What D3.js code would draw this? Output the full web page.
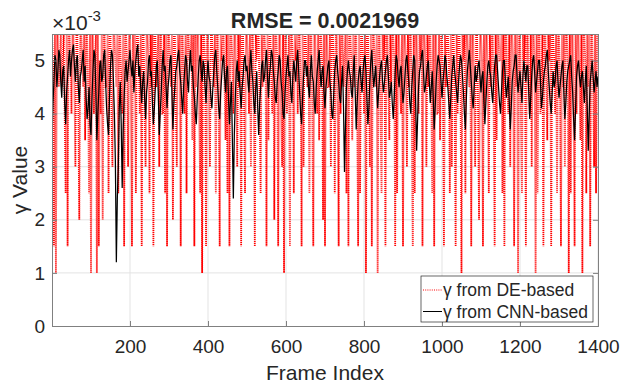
<!DOCTYPE html>
<html>
<head>
<meta charset="utf-8">
<script src="https://cdn.jsdelivr.net/npm/d3@7"></script>
<style>
  body { margin: 0; background: #fff; }
  text { font-family: "Liberation Sans", Arial, Helvetica, sans-serif; fill: #262626; }
</style>
</head>
<body>
<div id="chart"></div>
<script>
// gamma values (x 1e-3), one sample every 2.5 frames
const frameStep = 2.5;
const gammaDE = [
  5.5,5, 1.5,5.5, 1,5.5, 5.5,4.5, 5,5.5, 4.5,5, 5.5,4, 2.5,5.5, 1.5,5.5, 5.5,5, 4,5.5, 5.5,4.5, 3,5.5, 5.5,4, 2,5.5, 5.5,5, 4.5,5.5, 3.5,5.5, 5.5,4.5, 2.5,5.5,
  1,5.5, 5.5,4, 5,5.5, 1,5.5, 1.5,5, 4,5.5, 2,5.5, 5.5,4.5, 4.5,5.5, 2.5,5.5, 5.5,4, 3,5.5, 5.5,5, 4.5,5.5, 2.5,5.5, 5.5,4.5, 4,5.5, 1.5,5.5, 5.5,5, 3,5.5,
  5.5,4.5, 1.5,5.5, 4.5,5.5, 2.5,5.5, 5.5,5, 4,5.5, 1.5,5.5, 5.5,4, 3,5.5, 5.5,5, 2.5,5.5, 4.5,5.5, 1.5,5.5, 5.5,4.5, 5,5.5, 3,5.5, 5.5,4, 4,5.5, 2.5,5.5, 1.5,5.5,
  5.5,5, 4.5,5.5, 2,5.5, 5.5,4, 3,5.5, 5,5.5, 1.5,5.5, 5.5,4.5, 4,5.5, 2.5,5.5, 5.5,5, 5,5.5, 3.5,5.5, 1.5,5.5, 4.5,5.5, 5.5,4, 2.5,5.5, 1,5.5, 5.5,5, 1.5,5.5,
  5.5,4.5, 3,5.5, 5.5,5, 4.5,5.5, 2.5,5.5, 5.5,4, 1.5,5.5, 5,5.5, 5.5,4.5, 3.5,5.5, 2.5,5.5, 1.5,5.5, 5.5,5, 4,5.5, 5.5,4.5, 3,5.5, 4.5,5.5, 1.5,5.5, 5.5,4, 2.5,5.5,
  5.5,5, 4,5.5, 3,5.5, 5.5,4.5, 1.5,5.5, 5,5.5, 5.5,4, 2.5,5.5, 4.5,5.5, 5.5,5, 1.5,5.5, 3.5,5.5, 5.5,4.5, 4,5.5, 2,5.5, 5.5,5, 1.5,5.5, 5.5,4, 3,5.5, 1,5.5,
  5.5,4, 4.5,5.5, 1.5,5.5, 5.5,5, 2.5,5.5, 5,5.5, 4,5.5, 5.5,4.5, 1.5,5.5, 3,5.5, 5.5,5, 4.5,5.5, 2.5,5.5, 5.5,4, 1.5,5.5, 5.5,4.5, 4,5.5, 3.5,5.5, 5.5,5, 2,5.5,
  1.5,5.5, 5.5,4.5, 4.5,5.5, 3,5.5, 5.5,5, 2.5,5.5, 5.5,4, 1.5,5.5, 4,5.5, 5.5,4.5, 5,5.5, 2.5,5.5, 1.5,5.5, 5.5,5, 3.5,5.5, 4.5,5.5, 5.5,4, 1.5,5.5, 2.5,5.5, 5.5,5,
  4,5.5, 1,5.5, 5.5,4.5, 3,5.5, 1.5,5.5, 5.5,5, 4.5,5.5, 1,5.5, 5.5,4, 2.5,5.5, 5,5.5, 1.5,5.5, 5.5,4.5, 3.5,5.5, 4.5,5.5, 5.5,5, 1.5,5.5, 2.5,5.5, 5.5,4.5, 4,5.5,
  1.5,5.5, 5.5,5, 3,5.5, 4.5,5.5, 5.5,4, 1.5,5.5, 2.5,5.5, 5.5,4.5, 4,5.5, 5,5.5, 1.5,5.5, 5.5,5, 3,5.5, 4.5,5.5, 5.5,4.5, 2.5,5.5, 1.5,5.5, 5.5,4, 4,5.5, 3.5,5.5,
  5.5,4.5, 1.5,5.5, 4.5,5.5, 5.5,5, 2.5,5.5, 3,5.5, 5.5,4, 1.5,5.5, 4,5.5, 5.5,4.5, 1,5.5, 5,5.5, 2.5,5.5, 5.5,5, 4.5,5.5, 1.5,5.5, 5.5,4.5, 3,5.5, 5.5,4, 2,5.5,
  5.5,5, 1.5,5.5, 4,5.5, 5.5,4.5, 2.5,5.5, 4.5,5.5, 5.5,4, 1.5,5.5, 3.5,5.5, 5.5,5, 5,5.5, 2.5,5.5, 1.5,5.5, 5.5,4.5, 4,5.5, 3,5.5, 5.5,5, 1.5,5.5, 4.5,5.5, 1,5.5,
  5.5,4, 2.5,5.5, 5,5.5, 1.5,5.5, 5.5,4.5, 4,5.5, 3,5.5, 5.5,5, 1,5.5, 2.5,5.5, 5.5,4, 4.5,5.5, 1.5,5.5, 5.5,4.5, 3.5,5.5, 5,5.5, 1.5,5.5, 5.5,5, 4,5.5, 2.5,5.5,
  5.5,4.5, 1.5,5.5, 4.5,5.5, 3,5.5, 5.5,5, 1,5.5, 2.5,5.5, 5.5,4, 1.5,5.5, 4,5.5, 5.5,4.5, 3.5,5.5, 1,5.5, 5.5,5, 2.5,5.5, 4.5,5.5, 1.5,5.5, 5.5,4.5, 3,5.5, 2.5,5.5, 5.5
];
const gammaCNN = [
  3.5,4.2, 4.6,5.1, 5.0,4.5, 4.8,5.2, 5.1,4.6, 4.3,4.8, 4.9,4.2, 3.8,4.4, 4.7,5.0, 5.2,4.7, 5.0,5.2, 5.3,4.9, 4.6,5.0, 5.1,4.5, 4.2,4.7, 4.8,5.0, 5.2,4.6, 4.9,4.3, 3.9,4.1, 4.5,3.8,
  3.6,4.3, 4.8,5.2, 5.1,4.4, 3.5,4.0, 4.4,4.9, 5.0,4.6, 4.7,5.1, 5.2,4.6, 4.1,3.8, 3.6,4.3, 4.9,5.2, 5.1,4.6, 4.0,3.1, 1.2,2.4, 3.0,4.1, 4.6,3.8, 2.6,3.7, 4.3,4.8, 5.0,4.6, 4.8,5.0,
  5.2,4.9, 4.7,5.0, 4.4,4.8, 5.0,5.2, 5.3,4.7, 4.9,4.5, 4.2,4.6, 4.8,4.3, 3.9,4.4, 4.6,5.0, 5.1,4.7, 4.8,4.2, 3.8,4.1, 4.5,4.9, 5.0,4.4, 3.6,4.0, 4.4,4.9, 5.2,4.8, 4.9,4.5, 4.1,4.5,
  4.7,5.0, 5.1,4.4, 3.7,4.2, 4.5,4.8, 4.9,5.1, 5.2,4.8, 4.6,4.3, 4.0,4.5, 4.8,5.1, 5.0,4.6, 4.4,4.9, 5.2,4.8, 4.9,4.5, 4.3,4.0, 3.8,4.3, 4.7,5.0, 5.1,4.8, 4.6,5.0, 4.9,4.5, 4.2,4.7,
  5.0,4.7, 4.6,4.3, 4.1,4.5, 4.8,5.1, 5.2,4.8, 4.5,4.1, 3.9,4.4, 4.7,5.0, 5.1,4.7, 4.4,4.8, 4.9,4.3, 3.8,4.2, 4.6,3.5, 2.4,3.6, 4.3,4.8, 5.0,4.6, 4.8,4.4, 4.1,4.5, 4.7,5.0, 5.1,4.8,
  4.9,4.6, 4.4,4.9, 5.2,4.8, 4.6,4.2, 4.0,4.5, 4.8,4.1, 3.6,4.2, 4.5,4.9, 5.0,4.6, 4.7,5.0, 5.2,4.7, 4.3,4.7, 4.9,5.2, 5.1,4.8, 4.6,4.3, 4.2,4.6, 4.8,5.1, 5.0,4.6, 4.4,4.0, 3.9,4.4,
  4.7,4.9, 5.1,4.7, 4.8,4.4, 4.2,4.7, 5.0,4.8, 4.6,5.0, 5.2,4.8, 4.4,4.0, 3.8,4.3, 4.7,5.0, 5.0,4.7, 4.9,4.5, 4.3,4.8, 5.1,4.7, 4.6,4.2, 4.0,4.5, 4.8,5.0, 5.2,4.8, 4.5,4.8, 4.9,4.4,
  4.1,4.5, 4.7,4.9, 5.0,4.6, 4.4,4.0, 3.9,4.4, 4.8,5.0, 5.1,4.8, 4.6,4.3, 4.2,4.6, 4.9,4.1, 2.9,3.8, 4.5,4.8, 5.0,4.8, 4.7,4.4, 4.3,4.8, 5.1,4.4, 3.7,4.2, 4.6,4.8, 4.9,4.6, 4.4,4.8,
  5.0,5.1, 4.8,4.3, 3.8,4.1, 4.6,5.0, 5.2,4.8, 4.5,4.7, 4.9,4.5, 4.1,4.4, 4.7,4.9, 5.0,4.6, 4.4,4.6, 4.8,5.0, 5.1,4.7, 4.3,4.4, 4.6,4.2, 3.9,4.3, 4.8,5.1, 5.0,4.7, 4.5,4.8, 4.9,4.5,
  4.2,4.4, 4.7,5.0, 5.1,4.8, 4.6,4.2, 4.0,4.5, 4.8,5.1, 5.0,4.2, 3.3,3.9, 4.5,4.8, 4.9,5.1, 5.2,4.8, 4.4,4.5, 4.7,4.9, 5.0,4.6, 4.2,4.5, 4.8,4.3, 3.7,4.1, 4.6,4.9, 5.1,5.0, 4.9,4.6,
  4.3,4.6, 4.8,5.1, 5.0,4.7, 4.5,4.2, 3.9,4.3, 4.7,4.9, 5.1,4.8, 4.6,4.4, 4.2,4.6, 4.9,5.1, 5.0,4.7, 4.4,4.0, 3.7,4.3, 4.8,5.0, 5.2,4.9, 4.6,4.3, 4.1,4.5, 4.9,4.6, 4.7,4.9, 5.0,4.7,
  4.4,4.7, 4.8,4.2, 3.8,4.2, 4.6,4.9, 5.0,4.8, 4.7,4.4, 4.2,4.6, 4.9,5.1, 5.1,4.8, 4.5,4.2, 4.0,4.4, 4.8,5.0, 5.0,4.6, 4.3,4.5, 4.7,4.2, 3.7,4.1, 4.6,4.8, 4.9,5.1, 5.1,4.7, 4.4,4.6,
  4.8,4.5, 4.2,4.7, 5.0,4.8, 4.6,4.9, 4.9,4.4, 3.9,4.3, 4.7,5.0, 5.1,4.8, 4.4,4.6, 4.8,5.0, 5.0,4.6, 4.1,4.3, 4.6,4.8, 4.9,5.1, 5.2,4.8, 4.5,4.2, 4.0,4.4, 4.8,4.5, 4.6,4.9, 5.0,4.6,
  4.3,4.5, 4.7,4.9, 5.0,4.4, 3.9,4.2, 4.6,4.8, 4.9,5.0, 5.1,4.7, 4.4,3.9, 3.5,4.1, 4.7,4.9, 5.0,4.7, 4.5,4.7, 4.8,4.5, 4.2,4.6, 4.9,4.1, 3.3,4.0, 4.6,4.8, 5.0,4.7, 4.4,4.6, 4.8,4.5, 4.7
];
const xTicks = [200, 400, 600, 800, 1000, 1200, 1400];
const yTicks = [0, 1, 2, 3, 4, 5];
const titleText = "RMSE = 0.0021969";
const legendLabels = ["γ from DE-based", "γ from CNN-based"];

const width = 622, height = 391;
const margin = { top: 34, right: 24, bottom: 65, left: 52 };
const innerW = width - margin.left - margin.right;
const innerH = height - margin.top - margin.bottom;

const svg = d3.select("#chart").append("svg")
    .attr("width", width)
    .attr("height", height);

const g = svg.append("g")
    .attr("transform", `translate(${margin.left},${margin.top})`);

const x = d3.scaleLinear().domain([0, 1400]).range([0, innerW]);
const y = d3.scaleLinear().domain([0, 5.5]).range([innerH, 0]);

// grid
g.append("g").selectAll("line").data(xTicks).join("line")
    .attr("x1", d => x(d)).attr("x2", d => x(d))
    .attr("y1", 0).attr("y2", innerH)
    .attr("stroke", "#e3e3e3").attr("stroke-width", 1);
g.append("g").selectAll("line").data(yTicks.slice(1)).join("line")
    .attr("x1", 0).attr("x2", innerW)
    .attr("y1", d => y(d)).attr("y2", d => y(d))
    .attr("stroke", "#e3e3e3").attr("stroke-width", 1);

g.append("clipPath").attr("id", "clip")
    .append("rect").attr("width", innerW).attr("height", innerH);

const line = d3.line()
    .x((d, i) => x(i * frameStep))
    .y(d => y(d));

// DE-based (red dotted)
g.append("path")
    .datum(gammaDE)
    .attr("clip-path", "url(#clip)")
    .attr("fill", "none")
    .attr("stroke", "#ff0000")
    .attr("stroke-width", 1.8)
    .attr("stroke-dasharray", "1,1")
    .attr("d", line);

// CNN-based (black solid)
g.append("path")
    .datum(gammaCNN)
    .attr("clip-path", "url(#clip)")
    .attr("fill", "none")
    .attr("stroke", "#000")
    .attr("stroke-width", 1.25)
    .attr("d", line);

// axes, matlab style: ticks inside, box around
const xAxis = g.append("g")
    .attr("transform", `translate(0,${innerH})`)
    .call(d3.axisBottom(x).tickValues(xTicks).tickFormat(d3.format("d")).tickSize(-5).tickPadding(14));
const yAxis = g.append("g")
    .call(d3.axisLeft(y).tickValues(yTicks).tickFormat(d3.format("d")).tickSize(-5).tickPadding(7));
g.append("g")
    .call(d3.axisTop(x).tickValues(xTicks).tickSize(-5).tickFormat(""));
g.append("g")
    .attr("transform", `translate(${innerW},0)`)
    .call(d3.axisRight(y).tickValues(yTicks).tickSize(-5).tickFormat(""));

g.selectAll(".domain, .tick line").attr("stroke", "#808080");
xAxis.selectAll("text").style("font-size", "19px").attr("fill", "#262626");
yAxis.selectAll("text").style("font-size", "19px").attr("fill", "#262626");

// exponent label
const expo = svg.append("text")
    .attr("x", 52).attr("y", 30)
    .style("font-size", "21px");
expo.append("tspan").text("×10");
expo.append("tspan").attr("dy", -9).style("font-size", "15px").text("-3");

// title
svg.append("text")
    .attr("x", margin.left + innerW / 2).attr("y", 28)
    .attr("text-anchor", "middle")
    .style("font-size", "21.5px").style("font-weight", "bold")
    .text(titleText);

// axis labels
svg.append("text")
    .attr("x", margin.left + innerW / 2).attr("y", 380)
    .attr("text-anchor", "middle")
    .style("font-size", "21px")
    .text("Frame Index");

svg.append("text")
    .attr("transform", `translate(27,${margin.top + innerH / 2}) rotate(-90)`)
    .attr("text-anchor", "middle")
    .style("font-size", "21px")
    .text("γ Value");

// legend
const lg = svg.append("g").attr("transform", "translate(421,276)");
lg.append("rect")
    .attr("width", 172).attr("height", 46)
    .attr("fill", "#fff").attr("stroke", "#262626").attr("stroke-width", 0.7);
const styles = [
    { stroke: "#ff0000", dash: "1,1.2" },
    { stroke: "#000", dash: null }
];
legendLabels.forEach((lab, i) => {
    const yy = 14 + i * 21.5;
    lg.append("line")
        .attr("x1", 2).attr("x2", 21).attr("y1", yy).attr("y2", yy)
        .attr("stroke", styles[i].stroke).attr("stroke-width", 1)
        .attr("stroke-dasharray", styles[i].dash);
    lg.append("text")
        .attr("x", 22).attr("y", yy + 6)
        .style("font-size", "17.5px")
        .text(lab);
});
</script>
</body>
</html>
